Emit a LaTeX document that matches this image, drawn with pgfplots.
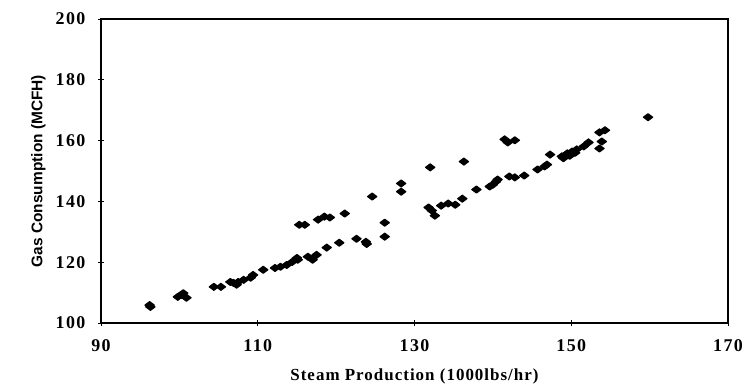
\documentclass[border=0pt]{standalone}
\usepackage{fontspec}
\setmainfont{Liberation Serif}
\newfontfamily\sansb{Liberation Sans}
\newfontfamily\tickf[LetterSpace=8]{Liberation Serif}
\newfontfamily\labf[LetterSpace=6]{Liberation Serif}
\usepackage{pgfplots}
\pgfplotsset{compat=1.18}
\usetikzlibrary{calc}
\begin{document}
\begin{tikzpicture}
\begin{axis}[
  scale only axis,
  width=627bp, height=304bp,
  xmin=90, xmax=170, ymin=100, ymax=200,
  xtick={90,110,130,150,170},
  ytick={100,120,140,160,180,200},
  xtick pos=bottom, ytick pos=left,
  tick align=center,
  major tick length=6bp,
  axis line style={line width=1.2bp},
  tick style={line width=0.9bp, black},
  /pgf/number format/assume math mode=true,
  ticklabel style={font=\tickf\fontsize{18}{18}\selectfont\bfseries},
  xticklabel style={yshift=-10bp},
  yticklabel style={xshift=-9bp},
  xlabel={Steam Production (1000lbs/hr)},
  ylabel={Gas Consumption (MCFH)},
  xlabel style={font=\labf\fontsize{17}{17}\selectfont\bfseries, at={(axis description cs:0.5,0)}, anchor=center, yshift=-53bp},
  ylabel style={font=\sansb\fontsize{15.5}{16}\selectfont\bfseries, at={(axis description cs:-0.1,0.5)}, anchor=center},
  clip=false,
]
\addplot[only marks, mark=diamond*, mark size=4.6bp, mark options={rotate=90, fill=black, draw=black, line width=1.2bp, line join=round}] coordinates {
(96.2,105.9) (96.3,105.3) (99.8,108.6) (100.2,109.2) (100.5,109.8) (100.9,108.3)
(104.4,111.9) (105.3,111.9) (106.5,113.5) (106.9,113.2) (107.3,112.6) (107.5,113.5)
(108.2,114.2) (109.1,114.9) (109.4,115.8) (110.7,117.5) (112.2,118.1) (112.9,118.5)
(113.7,119.1) (114.4,120.1) (115.0,121.4) (115.1,120.8) (116.4,121.8) (117.0,120.8)
(117.5,122.4) (118.8,124.8) (120.4,126.4) (122.6,127.7) (123.8,126.7) (123.9,126.0)
(126.2,128.4) (115.3,132.3) (116.0,132.3) (117.7,134.0) (118.5,135.0) (119.2,134.7)
(121.1,136.0) (124.6,141.6) (126.2,133.0) (128.3,145.9) (128.3,143.2) (132.0,151.2)
(131.8,138.0) (132.2,137.0) (132.6,135.3) (133.4,138.6) (134.3,139.3) (135.2,138.9)
(136.1,140.9) (136.3,153.1) (137.9,143.9) (139.6,144.9) (140.0,145.5) (140.4,146.5)
(140.6,147.2) (141.5,160.4) (141.9,159.4) (142.8,160.1) (142.1,148.2) (142.8,147.9)
(144.0,148.5) (145.7,150.5) (146.6,151.5) (146.9,152.1) (147.3,155.4) (148.8,154.8)
(149.0,154.2) (149.5,155.8) (149.8,155.0) (150.1,156.4) (150.5,156.0) (150.7,157.1)
(151.6,158.1) (152.2,159.4) (153.6,162.7) (154.3,163.4) (153.9,159.7) (153.6,157.4)
(159.8,167.7)
};
\coordinate (sw) at (rel axis cs:0,0);
\coordinate (ne) at (rel axis cs:1,1);
\end{axis}
\pgfresetboundingbox
\path[use as bounding box] ($(sw)+(-101bp,-67bp)$) rectangle ($(ne)+(17bp,19bp)$);
\end{tikzpicture}
\end{document}
